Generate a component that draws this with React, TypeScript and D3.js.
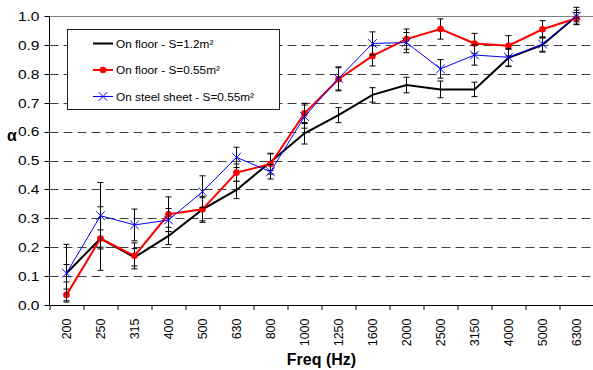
import React from "react";
import * as d3 from "d3";

const categories = ["200","250","315","400","500","630","800","1000","1250","1600","2000","2500","3150","4000","5000","6300"];
const floorLarge = [0.11,0.23,0.165,0.239,0.331,0.398,0.495,0.594,0.657,0.727,0.761,0.746,0.746,0.855,0.9,1.0];
const floorSmall = [0.035,0.23,0.17,0.314,0.331,0.458,0.488,0.663,0.781,0.862,0.92,0.955,0.905,0.897,0.954,0.992];
const steelSmall = [0.11,0.309,0.277,0.294,0.392,0.511,0.461,0.652,0.784,0.905,0.908,0.817,0.865,0.857,0.903,1.0];
const errFloorLarge = [0.03,0.03,0.03,0.03,0.045,0.03,0.03,0.037,0.026,0.025,0.027,0.029,0.025,0.03,0.025,0.03];
const errFloorSmall = [0.02,0.11,0.045,0.06,0.04,0.03,0.035,0.035,0.04,0.035,0.035,0.035,0.035,0.035,0.03,0.02];
const errSteelSmall = [0.1,0.115,0.055,0.04,0.055,0.035,0.025,0.04,0.04,0.04,0.035,0.032,0.035,0.03,0.025,0.02];
const yTicks = [0,0.1,0.2,0.3,0.4,0.5,0.6,0.7,0.8,0.9,1.0];
const legendLabels = ["On floor - S=1.2m²","On floor - S=0.55m²","On steel sheet - S=0.55m²"];

const W = 593, H = 370;
const left = 49.5, right = 593.5, top = 16, bottom = 305;

export default function App() {
  const x = d3.scaleBand<string>().domain(categories).range([left, right]).padding(0);
  const y = d3.scaleLinear().domain([0, 1]).range([bottom, top]);
  const cx = (i: number) => (x(categories[i]) as number) + x.bandwidth() / 2;
  const line = d3.line<number>().x((_, i) => cx(i)).y((v) => y(v));
  const font = "'Liberation Sans', Arial, sans-serif";

  const series = [
    { vals: floorLarge, err: errFloorLarge, color: "#000000", width: 2, marker: "none" },
    { vals: floorSmall, err: errFloorSmall, color: "#ff0000", width: 2, marker: "circle" },
    { vals: steelSmall, err: errSteelSmall, color: "#0000ff", width: 1, marker: "x" },
  ];

  const marker = (m: string, color: string, px: number, py: number, key: string) => {
    if (m === "circle") return <circle key={key} cx={px} cy={py} r={3.3} fill={color} />;
    if (m === "x") {
      const s = 4.3;
      return (
        <path key={key} d={`M${px - s},${py - s}L${px + s},${py + s}M${px - s},${py + s}L${px + s},${py - s}`} stroke={color} strokeWidth={1} fill="none" />
      );
    }
    return null;
  };

  return (
    <svg width={W} height={H} style={{ position: "absolute", left: 0, top: 0, background: "#fff" }} fontFamily={font}>
      <rect x={0} y={0} width={W} height={H} fill="#fff" />
      {/* gridlines */}
      {yTicks.filter((t) => t > 0 && t < 1).map((t) => (
        <line key={"g" + t} x1={left} x2={right} y1={Math.round(y(t)) + 0.5} y2={Math.round(y(t)) + 0.5} stroke="#404040" strokeWidth={1} strokeDasharray="9,5" />
      ))}
      <line x1={left} x2={W} y1={y(1) + 0.5} y2={y(1) + 0.5} stroke="#808080" strokeWidth={1} />
      {/* legend */}
      <rect x={67.5} y={29.5} width={212} height={80} fill="#fff" stroke="#222" strokeWidth={1} />
      {series.map((s, i) => {
        const ly = 43.5 + i * 26.5;
        return (
          <g key={"l" + i}>
            <line x1={93} x2={113} y1={ly} y2={ly} stroke={s.color} strokeWidth={s.width} />
            {marker(s.marker, s.color, 103, ly, "lm" + i)}
            <text x={116} y={ly + 4} fontSize={11.8} fill="#000">{legendLabels[i]}</text>
          </g>
        );
      })}
      {/* series */}
      {series.map((s, si) => (
        <g key={"s" + si}>
          {s.vals.map((v, i) => {
            const px = cx(i);
            const y1 = y(v + s.err[i]);
            const y2 = y(v - s.err[i]);
            return (
              <g key={"e" + i}>
                <line x1={px} x2={px} y1={y1} y2={y2} stroke="#000" strokeWidth={1} />
                <line x1={px - 3} x2={px + 3} y1={y1} y2={y1} stroke="#000" strokeWidth={1} />
                <line x1={px - 3} x2={px + 3} y1={y2} y2={y2} stroke="#000" strokeWidth={1} />
              </g>
            );
          })}
          <path d={line(s.vals) || ""} fill="none" stroke={s.color} strokeWidth={s.width} />
          {s.vals.map((v, i) => marker(s.marker, s.color, cx(i), y(v), "m" + si + "-" + i))}
        </g>
      ))}
      {/* y axis */}
      <line x1={left} x2={left} y1={top} y2={bottom} stroke="#000" strokeWidth={1} />
      {yTicks.map((t) => (
        <g key={"yt" + t}>
          <line x1={left - 5} x2={left} y1={Math.round(y(t)) + 0.5} y2={Math.round(y(t)) + 0.5} stroke="#000" />
          <text transform={`translate(39.5,${y(t) + 4.8}) scale(1.15,1)`} fontSize={13.5} textAnchor="end" fill="#000">{t.toFixed(1)}</text>
        </g>
      ))}
      <text x={12} y={141} fontSize={16} fontWeight="bold" textAnchor="middle" fill="#000">α</text>
      {/* x axis */}
      <line x1={left} x2={right} y1={bottom + 0.5} y2={bottom + 0.5} stroke="#000" strokeWidth={1} />
      {categories.map((c, i) => {
        const bx = (x(c) as number);
        return (
          <g key={"xt" + c}>
            <line x1={bx + 0.5} x2={bx + 0.5} y1={bottom} y2={bottom + 5} stroke="#000" />
            <text transform={`translate(${cx(i) + 4.5},${318.5}) rotate(-90)`} fontSize={12.5} textAnchor="end" fill="#000">{c}</text>
          </g>
        );
      })}
      <text x={321.5} y={365} fontSize={16} fontWeight="bold" textAnchor="middle" fill="#000">Freq (Hz)</text>
    </svg>
  );
}
